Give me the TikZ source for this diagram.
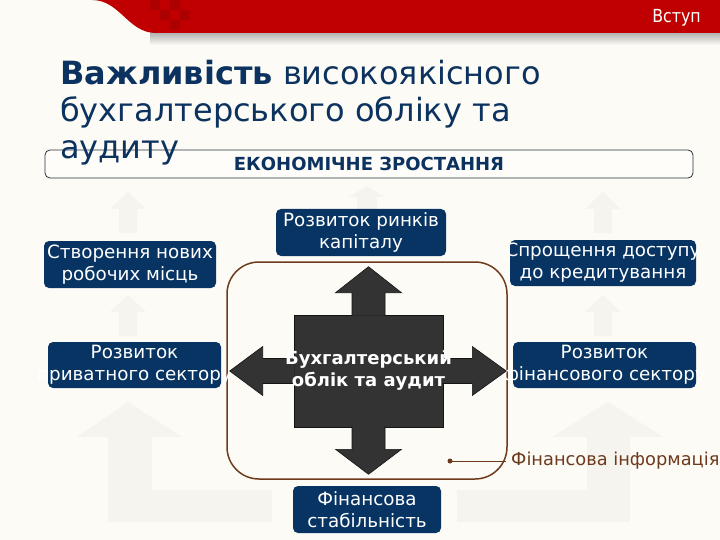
\documentclass[tikz,border=0pt]{standalone}
\usepackage{fontspec}
\setmainfont{DejaVu Sans}
\newfontfamily\narrowfont[FakeStretch=0.88]{DejaVu Sans}
\usetikzlibrary{calc}
\definecolor{pagebg}{RGB}{253,251,245}
\definecolor{ghostgray}{RGB}{246,244,238}
\definecolor{navy}{RGB}{7,52,99}
\definecolor{titleblue}{RGB}{12,50,95}
\definecolor{bandred}{RGB}{192,0,0}
\definecolor{infobrown}{RGB}{110,58,30}
\definecolor{hubgray}{RGB}{51,51,51}
\newcommand{\twoline}[2]{\makebox[0pt]{#1}\\\makebox[0pt]{#2}}

\begin{document}
\begin{tikzpicture}[x=1pt, y=-1pt,
    ghost/.style={fill=ghostgray},
    goal/.style={fill=navy, rounded corners=5pt, text=white, inner sep=0pt,
                 minimum width=#1, minimum height=47pt, align=center,
                 font=\fontsize{18.3}{22}\selectfont},
    banner/.style={draw={rgb,255:red,40;green,50;blue,62}, line width=0.8pt,
                   fill={rgb,255:red,254;green,253;blue,250}, rounded corners=5pt,
                   minimum width=648pt, minimum height=28pt, inner sep=0pt,
                   text=titleblue, font=\bfseries\fontsize{18}{20}\selectfont},
    hub/.style={fill=hubgray, draw={rgb,255:red,20;green,20;blue,20}, line width=0.6pt},
  ]
    % Page
    \useasboundingbox (0,0) rectangle (720,540);
    \fill[pagebg] (0,0) rectangle (720,540);

    % Faint background arrows
    \foreach \ax/\at in {128/192, 128/295, 603/192, 603/295}
        \fill[ghost] (\ax,\at) -- ++(18,17) -- ++(-9,0) -- ++(0,24) -- ++(-18,0)
            -- ++(0,-24) -- ++(-9,0) -- cycle;
    \fill[ghost] (367,186) -- ++(18,11) -- ++(-8,0) -- ++(0,12) -- ++(-20,0)
        -- ++(0,-12) -- ++(-8,0) -- cycle;
    \fill[ghost] (128,402) -- (182,437) -- (152,437) -- (152,490) -- (272,490)
        -- (272,522) -- (108,522) -- (108,437) -- (77,437) -- cycle;
    \fill[ghost] (608,402) -- (663,437) -- (630,437) -- (630,522) -- (457,522)
        -- (457,490) -- (587,490) -- (587,437) -- (552,437) -- cycle;

    % Header band
    \shade[top color=black!30, bottom color=pagebg] (150,33) rectangle (720,45);
    \fill[bandred] (92,0) .. controls (120,0) and (128,33) .. (156,33)
        -- (720,33) -- (720,0) -- cycle;
    \foreach \px/\py in {150/0, 170/0, 160/10, 180/10, 170/20}
        \fill[bandred!90!black] (\px,\py) rectangle ++(10,10);
    \node (section) [anchor=east, inner sep=0pt, text=white,
        font=\narrowfont\fontsize{18}{20}\selectfont] at (701,18) {Вступ};

    % Banner and title
    \node (growth) [banner] at (369,164) {ЕКОНОМІЧНЕ ЗРОСТАННЯ};
    \node (title) [anchor=north west, inner sep=0pt, align=left, text=titleblue,
        font=\fontsize{32}{37}\selectfont] at (60,60)
        {\textbf{Важливість} високоякісного\\бухгалтерського обліку та\\аудиту};

    % Frame round the core
    \node (zone) [draw=infobrown, line width=1.5pt, fill=pagebg, rounded corners=32pt,
        minimum width=280pt, minimum height=217pt] at (367,370.5) {};

    % Goals
    \node (capital) [goal=170pt] at (361,232.5) {\twoline{Розвиток ринків}{капіталу}};
    \node (jobs) [goal=172pt] at (130,264.5) {\twoline{Створення нових}{робочих місць}};
    \node (credit) [goal=186pt, minimum height=46pt] at (603,263)
        {\twoline{Спрощення доступу}{до кредитування}};
    \node (private) [goal=173pt, minimum height=46pt] at (134.5,365)
        {\twoline{Розвиток}{приватного сектору}};
    \node (finsector) [goal=183pt, minimum height=46pt] at (604.5,365)
        {\twoline{Розвиток}{фінансового сектору}};
    \node (stability) [goal=148pt] at (367,509.5) {\twoline{Фінансова}{стабільність}};

    % Core with four arrows
    \node (core) [hub, minimum width=149pt, minimum height=112pt] at (368.5,371) {};
    \filldraw[hub] ($(core.north)+(-16.5,1)$) -- ++(0,-23) -- ++(-16.5,0) -- ++(33,-26)
        -- ++(33,26) -- ++(-16.5,0) -- ++(0,23);
    \filldraw[hub] ($(core.south)+(-16.5,-1)$) -- ++(0,23) -- ++(-16.5,0) -- ++(33,25)
        -- ++(33,-25) -- ++(-16.5,0) -- ++(0,-23);
    \filldraw[hub] ($(core.west)+(1,-12.5)$) -- ++(-32,0) -- ++(0,-12) -- ++(-33,24.5)
        -- ++(33,24.5) -- ++(0,-12) -- ++(32,0);
    \filldraw[hub] ($(core.east)+(-1,-12.5)$) -- ++(30,0) -- ++(0,-12) -- ++(34,24.5)
        -- ++(-34,24.5) -- ++(0,-12) -- ++(-30,0);
    \node (coretext) [align=center, text=white, inner sep=0pt,
        font=\bfseries\fontsize{18}{22}\selectfont] at (core.center)
        {\twoline{Бухгалтерський}{облік та аудит}};

    % Label
    \coordinate (pin) at (450,461);
    \node (info) [anchor=west, inner sep=0pt, text=infobrown,
        font=\fontsize{17.8}{22}\selectfont] at (511,461) {Фінансова інформація};
    \fill[infobrown] (pin) circle (2.5);
    \draw[infobrown, line width=0.8pt] (pin) -- ([xshift=-5pt]info.west);
\end{tikzpicture}
\end{document}
